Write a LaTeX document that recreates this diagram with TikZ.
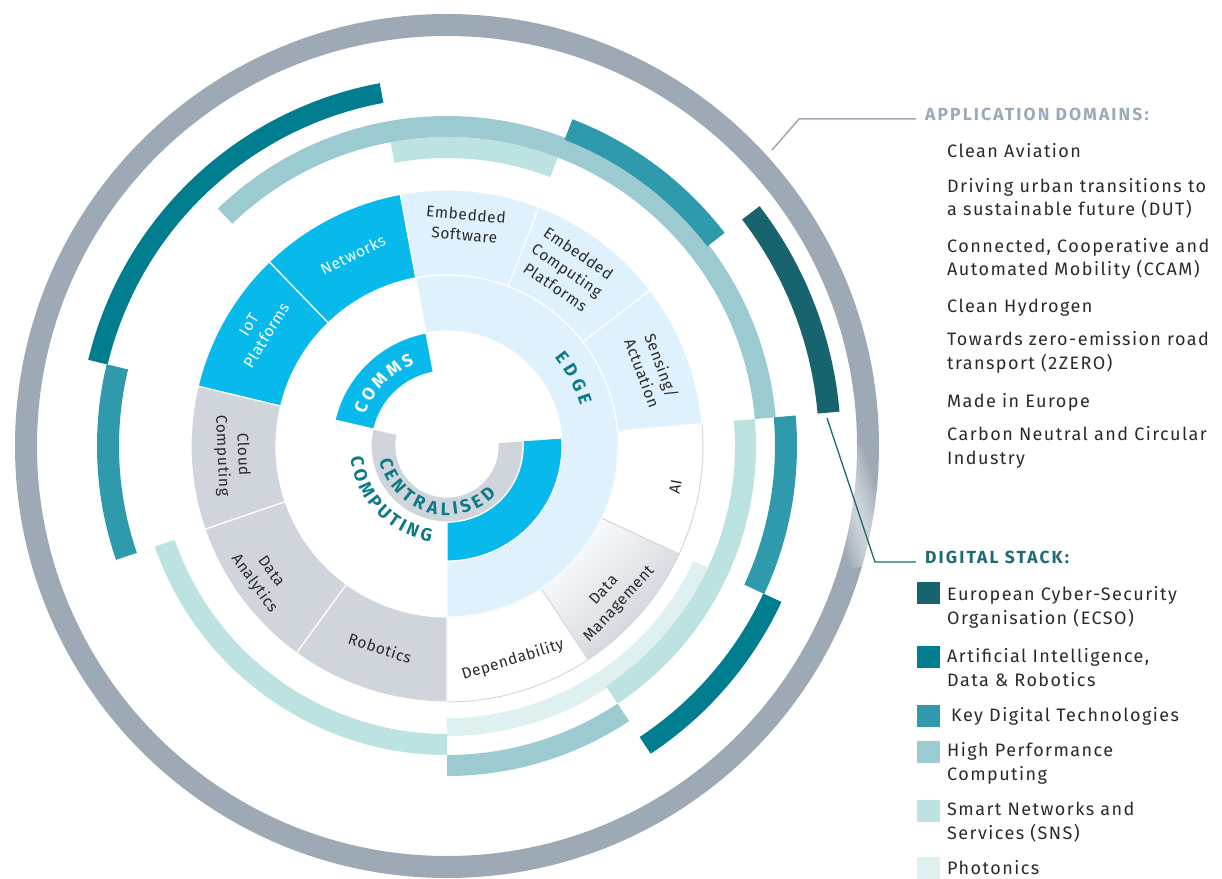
\documentclass[tikz,border=0pt]{standalone}
\usepackage{fontspec}
\setmainfont{Fira Sans}[LetterSpace=4]
\newfontfamily\listfont{Fira Sans}[LetterSpace=8]
\newfontfamily\titlefont{Fira Sans}[LetterSpace=12]

\definecolor{ringgray}{HTML}{9DA9B5}
\definecolor{ecso}{HTML}{17646E}
\definecolor{aidr}{HTML}{007D8E}
\definecolor{kdt}{HTML}{2E9AAC}
\definecolor{hpc}{HTML}{9BCBD0}
\definecolor{sns}{HTML}{BDE2E2}
\definecolor{photon}{HTML}{DFF0F0}
\definecolor{commsblue}{HTML}{08BAEB}
\definecolor{edgeblue}{HTML}{DFF1FC}
\definecolor{centgray}{HTML}{D0D5DC}
\definecolor{dmgray}{HTML}{C9CED6}
\definecolor{rimline}{HTML}{D3D8DE}
\definecolor{tealtext}{HTML}{0E7A86}
\definecolor{stacktext}{HTML}{1E6B75}
\definecolor{inktext}{HTML}{2A2A2A}

% annular segment: [style]{from angle}{to angle}{inner r}{outer r}
\newcommand{\annseg}[5][]{%
  \path[#1] (#2:#4) arc[start angle=#2, end angle=#3, radius=#4]
    -- (#3:#5) arc[start angle=#3, end angle=#2, radius=#5] -- cycle;}

\begin{document}
\begin{tikzpicture}[x=1pt, y=1pt,
    cyanseg/.style={fill=commsblue, draw=white, line width=1.2},
    grayseg/.style={fill=centgray, draw=white, line width=1.2},
    whiteseg/.style={fill=white, draw=rimline, line width=1},
    edgeseg/.style={fill=edgeblue, draw=white, line width=1.2},
    seglabel/.style={align=center, inner sep=0, font=\fontsize{15.5}{20.5}\selectfont},
    hubletter/.style={inner sep=0, font=\fontsize{18}{18}\selectfont\bfseries, text=tealtext},
    listitem/.style={anchor=base west, align=left, inner sep=0, text=inktext,
        font=\listfont\fontsize{18}{23.5}\selectfont},
    keytitle/.style={anchor=west, inner xsep=9, inner ysep=0,
        font=\titlefont\fontsize{17.5}{17.5}\selectfont\bfseries}]

    \useasboundingbox (-447,-432) rectangle (775,446);

    % outer ring
    \draw[ringgray, line width=22] (0,0) circle[radius=421];

    % digital stack arcs
    \annseg[fill=photon]{270}{335}{272}{290}
    \annseg[fill=sns]{69}{100.5}{288}{309}
    \annseg[fill=sns]{-56.5}{5}{288}{309}
    \annseg[fill=sns]{199}{270}{288}{309}
    \annseg[fill=hpc]{5}{134}{309}{330}
    \annseg[fill=hpc]{270}{303.5}{309}{330}
    \annseg[fill=kdt]{166.5}{199}{328}{350}
    \annseg[fill=kdt]{37.5}{69}{328}{350}
    \annseg[fill=kdt]{-25}{5}{328}{350}
    \annseg[fill=aidr]{100.5}{166.5}{349}{369}
    \annseg[fill=aidr]{303.5}{335}{349}{369}
    \annseg[fill=ecso]{5}{37.5}{372}{394}

    % application areas
    \foreach \a/\b/\sty in {335/365/whiteseg, 270/303.5/whiteseg, 100.5/134/cyanseg,
        134/166.5/cyanseg, 166.5/199/grayseg, 199/234/grayseg, 234/270/grayseg,
        5/37.5/edgeseg, 37.5/69/edgeseg, 69/100.5/edgeseg}
      {\annseg[\sty]{\a}{\b}{171}{256}}
    \annseg[top color=white, bottom color=dmgray, shading angle=45, draw=rimline, line width=1]{303.5}{335}{171}{256}

    % hub
    \annseg[edgeseg]{-90}{100.5}{115}{171}
    \annseg[cyanseg]{100.5}{167}{75}{115}
    \annseg[cyanseg]{-90}{4}{76}{115}
    \annseg[grayseg]{167}{364}{51}{76}

    \foreach \ang/\rad/\rot/\col/\txt [count=\i] in {
        116.2/213/26.2/white/Networks, 148.5/222/58.5/white/{IoT\\Platforms},
        182.4/215/-87.6/inktext/{Cloud\\Computing}, 215.5/227/-54.5/inktext/{Data\\Analytics},
        251.7/213/-18.3/inktext/Robotics, 287.1/224/17.1/inktext/Dependability,
        317.4/224/47.4/inktext/{Data\\Management}, 349.8/232/79.8/inktext/AI,
        20.5/219/-69.5/inktext/{Sensing/\\Actuation},
        55.7/213/-34.3/inktext/{Embedded\\Computing\\Platforms},
        85.3/222/-4.7/inktext/{Embedded\\Software}}
      \node[seglabel, text=\col, rotate=\rot] (area\i) at (\ang:\rad) {\txt};

    \foreach \ang/\ch [count=\i] in {196/C, 207.7/E, 220/N, 232.2/T, 244.1/R, 256.8/A,
        268.5/L, 277.4/I, 287.1/S, 298.4/E, 310.7/D}
      \node[hubletter, rotate=\ang+90] (cent\i) at (\ang:63) {\ch};
    \foreach \ang/\ch [count=\i] in {190/C, 198.7/O, 208.5/M, 217.9/P, 226.5/U,
        234.7/T, 241/I, 248.1/N, 257/G}
      \node[hubletter, rotate=\ang+90] (comp\i) at (\ang:91) {\ch};
    \foreach \ang/\ch [count=\i] in {155.9/C, 146.5/O, 136/M, 124.7/M, 114.9/S}
      \node[hubletter, text=white, font=\fontsize{17.5}{17.5}\selectfont\bfseries,
        rotate=\ang-90] (comms\i) at (\ang:94) {\ch};
    \foreach \ang/\ch [count=\i] in {37.7/E, 31.5/D, 24.9/G, 18.8/E}
      \node[hubletter, rotate=\ang-90] (edge\i) at (\ang:145.5) {\ch};

    % application domains
    \node[keytitle, text=ringgray] (appdom) at (469,332) {APPLICATION DOMAINS:};
    \coordinate (appfoot) at (325,296);
    \coordinate (appknee) at (352,327);
    \draw[ringgray, line width=1.5] (appfoot) -- (appknee) -- (appknee -| appdom.west);

    % base = baseline of the last line
    \foreach \yy/\txt [count=\i] in {288/{Clean Aviation},
        230/{Driving urban transitions to\\a sustainable future (DUT)},
        170/{Connected, Cooperative and\\Automated Mobility (CCAM)},
        133/{Clean Hydrogen},
        77/{Towards zero-emission road\\transport (2ZERO)},
        39/{Made in Europe},
        -18/{Carbon Neutral and Circular\\Industry}}
      \node[listitem] (domain\i) at (500,\yy) {\txt};

    % digital stack
    \node[keytitle, text=stacktext] (digstack) at (469,-111) {DIGITAL STACK:};
    \coordinate (stackfoot) at (380,28);
    \coordinate (stackknee) at (428,-116);
    \begin{scope}
      \annseg[clip]{-40}{0}{409}{434}
      \foreach \w in {48,42,...,6}
        \draw[white, line width=\w, opacity=0.09] (stackfoot) -- (stackknee);
    \end{scope}
    \draw[stacktext, line width=1.3] (stackfoot) -- (stackknee) -- (stackknee -| digstack.west);

    \foreach \col/\top/\base/\txt [count=\i] in {
        ecso/-136/-178/{European Cyber-Security\\Organisation (ECSO)},
        aidr/-200/-240/{Artificial Intelligence,\\Data \& Robotics},
        kdt/-259/-275/{\hspace{4pt}Key Digital Technologies},
        hpc/-295/-334/{High Performance\\Computing},
        sns/-354/-393/{Smart Networks and\\Services (SNS)},
        photon/-411/-428/{Photonics}} {
      \fill[\col] (470,\top) rectangle (493,\top-22);
      \node[listitem] (stack\i) at (500,\base) {\txt};
    }
\end{tikzpicture}
\end{document}
